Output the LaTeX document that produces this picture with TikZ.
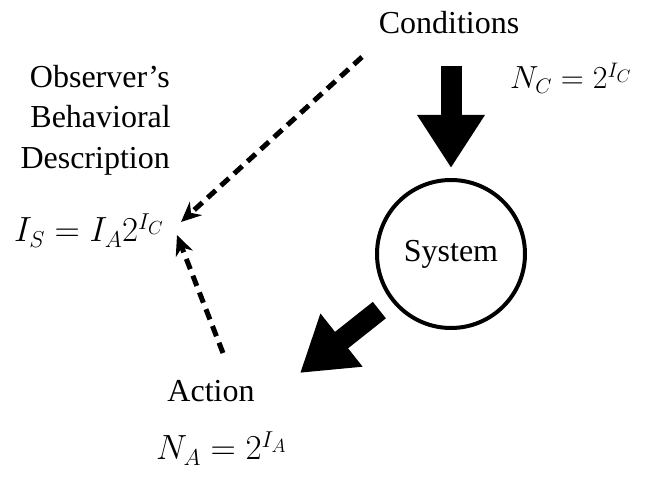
\RequirePackage{fix-cm}
\documentclass[tikz,border=0pt]{standalone}
\usepackage{fontspec}
\setmainfont{Liberation Serif}
\DeclareMathSizes{32}{32}{21}{18}
\DeclareMathSizes{35}{35}{23}{19}
\usetikzlibrary{arrows.meta}
\begin{document}
\begin{tikzpicture}[x=1pt,y=-1pt,
  lbl/.style={inner sep=0pt, font=\fontsize{32}{38}\selectfont},
  mathlbl/.style={inner sep=0pt, font=\fontsize{35}{40}\selectfont},
  bigarrow/.style={line width=21pt, -{Triangle[width=64pt,length=53pt]}},
  obsarrow/.style={line width=5pt, dash pattern=on 11pt off 7pt, -{Stealth[length=20pt,width=18pt]}}]
\useasboundingbox (0,0) rectangle (654,486);
\node[lbl,anchor=base] (cond) at (449,34) {Conditions};
\node[lbl,anchor=base west] (nc) at (510,89) {$N_C = 2^{I_C}$};
\node[lbl,anchor=base east] (obs1) at (170,88) {Observer's};
\node[lbl,anchor=base east] (obs2) at (171,128) {Behavioral};
\node[lbl,anchor=base east] (obs3) at (170,169) {Description};
\node[mathlbl,anchor=base west] (is) at (14,242) {$I_S = I_A 2^{I_C}$};
\node[circle, draw, line width=4pt, minimum size=148pt, inner sep=0pt,
      font=\fontsize{32}{38}\selectfont] (sys) at (451,254) {System};
\node[lbl,anchor=base] (act) at (211,402) {Action};
\node[mathlbl,anchor=base west] (na) at (156,460) {$N_A = 2^{I_A}$};
\coordinate (cin) at (451,66);
\coordinate (aout) at (300,373);
\coordinate (o1s) at (362,57);
\coordinate (o1e) at (181,222);
\coordinate (o2s) at (223,353);
\coordinate (o2e) at (177,235);
\draw[bigarrow, shorten >=10pt] (cin) -- (cin |- sys.north);
\draw[bigarrow, shorten <=15pt] (sys.218) -- (aout);
\draw[obsarrow] (o1s) -- (o1e);
\draw[obsarrow] (o2s) -- (o2e);
\end{tikzpicture}
\end{document}
